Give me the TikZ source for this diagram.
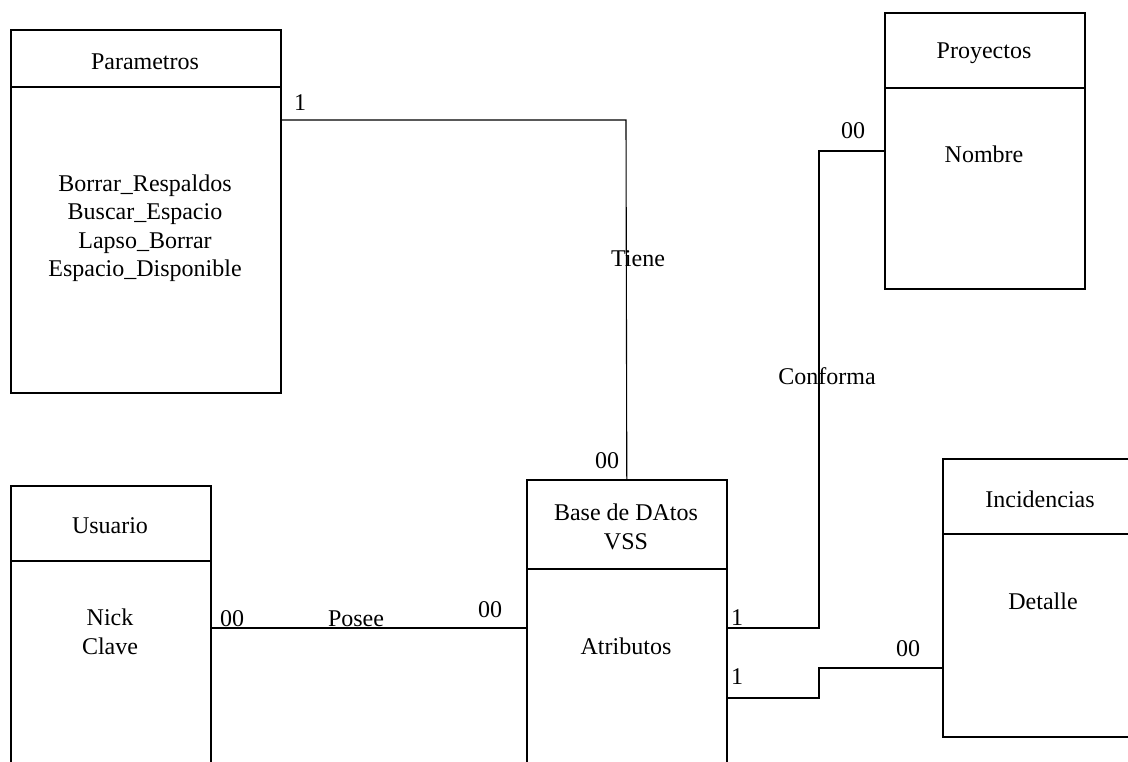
\documentclass[tikz,border=0pt]{standalone}
\usepackage{fontspec}
\setmainfont{Liberation Serif}
\begin{document}
\begin{tikzpicture}[x=1pt,y=-1pt,
  box/.style={draw, line width=1.6pt, anchor=north west, inner sep=0pt},
  conn/.style={line width=1.1pt},
  lbl/.style={inner sep=0pt, font=\fontsize{24}{28.5}\selectfont, align=center},
  every node/.style={font=\fontsize{24}{28.5}\selectfont}]
\useasboundingbox (0,0) rectangle (1128,761);
% Parametros
\node[box, minimum width=270pt, minimum height=57pt] (parh) at (10,29) {};
\node[box, minimum width=270pt, minimum height=306pt] (parb) at (10,86) {};
\node[lbl] (part) at (145,62) {Parametros};
\node[lbl] (para) at (145,228) {Borrar\_Respaldos\\Buscar\_Espacio\\Lapso\_Borrar\\Espacio\_Disponible};
% Usuario
\node[box, minimum width=200pt, minimum height=75pt] (usuh) at (10,485) {};
\node[box, minimum width=200pt, minimum height=230pt] (usub) at (10,560) {};
\node[lbl] (usut) at (110,526) {Usuario};
\node[lbl] (usua) at (110,632) {Nick\\Clave};
% Base de Datos
\node[box, minimum width=200pt, minimum height=89pt] (baseh) at (526,479) {};
\node[box, minimum width=200pt, minimum height=220pt] (baseb) at (526,568) {};
\node[lbl] (baset) at (626,527) {Base de DAtos\\VSS};
\node[lbl] (basea) at (626,646) {Atributos};
% Proyectos
\node[box, minimum width=200pt, minimum height=75pt] (proh) at (884,12) {};
\node[box, minimum width=200pt, minimum height=201pt] (prob) at (884,87) {};
\node[lbl] (prot) at (984,53) {Proyectos};
\node[lbl] (proa) at (984,154) {Nombre};
% Incidencias
\node[box, minimum width=200pt, minimum height=75pt] (inch) at (942,458) {};
\node[box, minimum width=200pt, minimum height=203pt] (incb) at (942,533) {};
\node[lbl] (inct) at (1040,499) {Incidencias};
\node[lbl] (inca) at (1043,601) {Detalle};
% connectors
\coordinate (tA) at (282,120);
\coordinate (tB) at (626,120);
\draw[conn] (tA) -- (tB) -- (baseh.north);
\coordinate (pA) at (212,628);
\draw[conn] (pA) -- (pA -| baseb.west);
\coordinate (cA) at (728,628);
\coordinate (cB) at (819,628);
\coordinate (cC) at (819,151);
\draw[conn] (cA) -- (cB) -- (cC) -- (cC -| prob.west);
\coordinate (iA) at (728,698);
\coordinate (iB) at (819,698);
\coordinate (iC) at (819,668);
\draw[conn] (iA) -- (iB) -- (iC) -- (iC -| incb.west);
% labels
\node[lbl] (l1) at (300,103) {1};
\node[lbl] (ltiene) at (638,259) {Tiene};
\node[lbl] (l00a) at (607,461) {00};
\node[lbl] (l00b) at (232,619) {00};
\node[lbl] (lposee) at (356,619) {Posee};
\node[lbl] (l00c) at (490,610) {00};
\node[lbl] (l1b) at (737,618) {1};
\node[lbl] (l1c) at (737,677) {1};
\node[lbl] (l00d) at (853,131) {00};
\node[lbl] (lconf) at (827,376) {Conforma};
\node[lbl] (l00e) at (908,649) {00};
\end{tikzpicture}
\end{document}
